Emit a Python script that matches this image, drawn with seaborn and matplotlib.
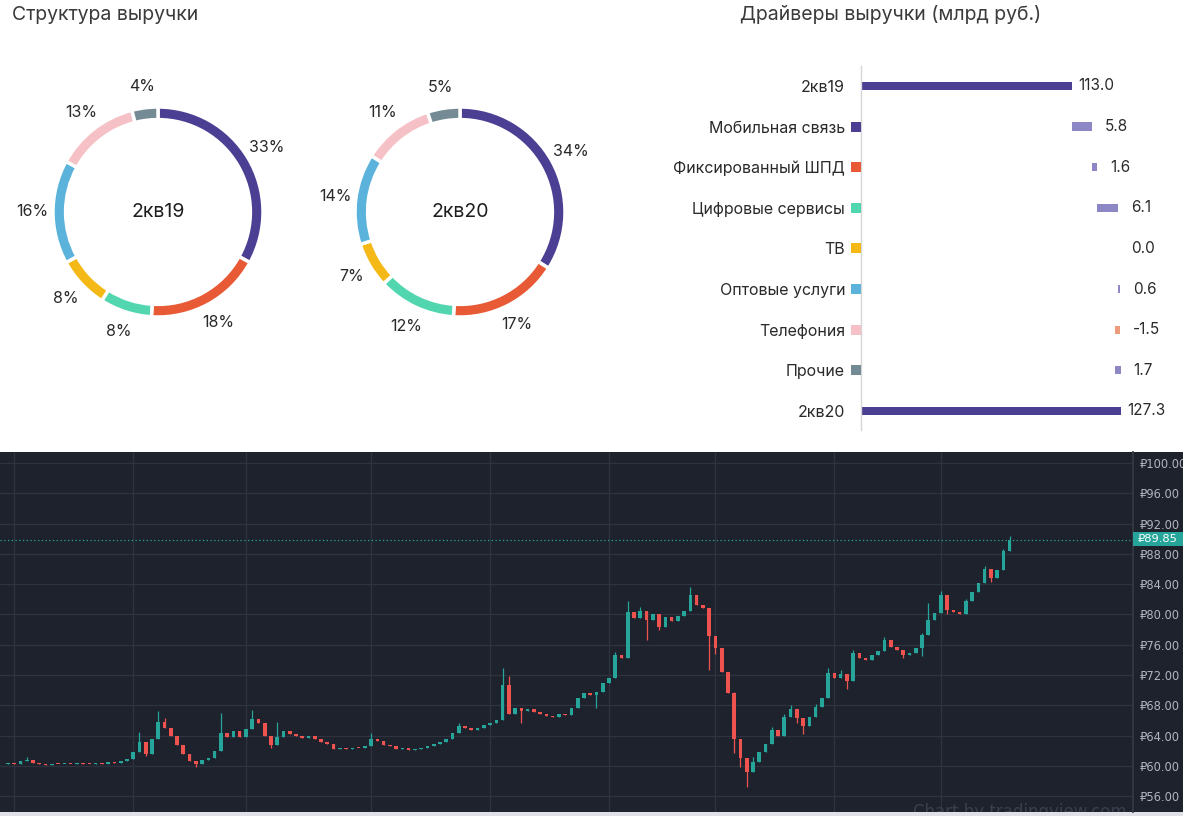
import numpy as np
import pandas as pd
import matplotlib
matplotlib.use("Agg")
import matplotlib.pyplot as plt
import matplotlib.transforms as mtransforms
from matplotlib.patches import Rectangle
import seaborn as sns

# ---------------- data ----------------
segment_names = ["Мобильная связь", "Фиксированный ШПД", "Цифровые сервисы", "ТВ",
                 "Оптовые услуги", "Телефония", "Прочие"]
segment_colors = ["#4b3f93", "#e85a35", "#52d6b0", "#f4b916", "#5bb3dc", "#f6c1c6", "#748a94"]
share_2q19 = [33, 18, 8, 8, 16, 13, 4]
share_2q20 = [34, 17, 12, 7, 14, 11, 5]
donut_titles = ["2кв19", "2кв20"]

driver_labels = ["2кв19", "Мобильная связь", "Фиксированный ШПД", "Цифровые сервисы", "ТВ",
                 "Оптовые услуги", "Телефония", "Прочие", "2кв20"]
driver_values = [113.0, 5.8, 1.6, 6.1, 0.0, 0.6, -1.5, 1.7, 127.3]

first_open = 60.3
closes = [
    60.4, 60.3, 60.6, 60.8, 60.4, 60.2, 60.1, 60.3, 60.2, 60.3,
    60.2, 60.4, 60.3, 60.2, 60.4, 60.3, 60.5, 60.4, 60.6, 60.9,
    61.8, 63.2, 61.6, 63.5, 65.8, 65.0, 64.0, 62.8, 61.6, 60.6,
    60.3, 60.8, 61.0, 61.9, 64.4, 63.8, 64.6, 63.8, 64.9, 66.2,
    65.6, 64.0, 62.8, 63.8, 64.6, 64.2, 63.9, 63.7, 63.9, 63.6,
    63.2, 62.9, 62.2, 62.3, 62.2, 62.4, 62.3, 62.6, 63.6, 63.3,
    62.8, 62.6, 62.2, 62.3, 62.1, 62.2, 62.4, 62.6, 62.9, 63.2,
    63.6, 64.3, 65.2, 65.0, 64.7, 65.0, 65.4, 65.7, 66.1, 70.7,
    66.8, 67.7, 67.3, 67.5, 67.1, 66.9, 66.6, 66.5, 66.9, 66.7,
    67.6, 69.0, 69.6, 69.3, 69.8, 71.0, 71.6, 74.6, 74.3, 80.3,
    79.5, 80.4, 79.2, 80.0, 78.4, 79.6, 79.1, 79.8, 80.5, 82.6,
    81.3, 80.8, 77.2, 75.6, 72.4, 69.6, 63.5, 61.0, 59.2, 60.5,
    61.8, 62.9, 64.7, 64.0, 66.4, 67.5, 66.3, 65.2, 66.5, 67.8,
    68.9, 72.3, 71.6, 72.1, 71.2, 74.9, 74.3, 74.0, 74.6, 75.1,
    76.6, 75.7, 75.3, 74.6, 74.9, 75.6, 77.3, 79.2, 80.2, 82.6,
    80.6, 80.3, 80.0, 81.8, 83.0, 84.1, 86.0, 84.8, 85.9, 88.4,
    89.85,
]
wick_high = {3: 61.2, 21: 64.5, 24: 67.2, 25: 66.3, 34: 67.0, 39: 67.4, 43: 65.8,
             58: 64.3, 72: 65.6, 79: 72.9, 80: 71.9, 97: 75.0, 99: 81.8, 101: 81.0,
             109: 83.6, 110: 82.2, 114: 73.6, 116: 69.8, 119: 61.2, 122: 65.1,
             124: 66.9, 125: 68.0, 129: 68.2, 131: 72.9, 133: 72.6, 135: 75.3,
             140: 77.0, 146: 77.6, 147: 81.5, 149: 83.1, 153: 82.0, 156: 86.4,
             159: 88.6, 160: 90.3}
wick_low = {22: 61.3, 30: 59.9, 42: 62.3, 82: 65.7, 94: 67.6, 102: 76.6, 104: 77.9,
            112: 72.7, 113: 74.8, 116: 61.7, 117: 59.8, 118: 57.2, 120: 60.9,
            126: 65.6, 127: 64.2, 134: 70.2, 143: 74.2, 146: 74.5, 150: 80.0, 157: 84.3}
month_starts = [1, 20, 38, 58, 77, 96, 113, 132, 149]
price_ticks = [56, 60, 64, 68, 72, 76, 80, 84, 88, 92, 96, 100]
last_price = 89.85

# ---------------- style ----------------
W, H = 1183, 816
sns.set_theme(style="white")
plt.rcParams["font.family"] = ["Inter", "DejaVu Sans"]
fig = plt.figure(figsize=(W / 100, H / 100), dpi=100)
fig.patch.set_facecolor("white")


def fx(px):
    return px / W


def fy(py):
    return 1 - py / H


TXT = "#2a2a2a"

# ---------------- titles ----------------
fig.text(fx(12), fy(15), "Структура выручки", ha="left", va="center", fontsize=14, color="#3a3a3a")
fig.text(fx(891), fy(15), "Драйверы выручки (млрд руб.)", ha="center", va="center",
         fontsize=14, color="#3a3a3a")

# ---------------- donuts ----------------
r_px = 105
half = 1.3 * r_px
for cx, vals, title in [(158, share_2q19, donut_titles[0]), (460, share_2q20, donut_titles[1])]:
    ax = fig.add_axes([fx(cx - half), fy(212 + half), fx(2 * half), (2 * half) / H])
    ax.pie(vals, colors=segment_colors, startangle=90, counterclock=False, radius=1.0,
           wedgeprops=dict(width=0.12, edgecolor="white", linewidth=2.5))
    cum = np.cumsum([0] + vals[:-1])
    for v, c0 in zip(vals, cum):
        ang = np.deg2rad(90 - (c0 + v / 2) / 100 * 360)
        ax.text(1.2 * np.cos(ang), 1.2 * np.sin(ang), f"{v}%", ha="center", va="center",
                fontsize=11.5, color=TXT)
    ax.text(0, 0, title, ha="center", va="center", fontsize=14, color="#1e1e1e")
    ax.set_xlim(-1.3, 1.3)
    ax.set_ylim(-1.3, 1.3)
    ax.set_axis_off()

# ---------------- waterfall ----------------
total_color, pos_color, neg_color = "#4b3f93", "#8e87c5", "#eb9a7c"
his, los, cols = [], [], []
cum = 0.0
n = len(driver_values)
for k, v in enumerate(driver_values):
    if k == 0 or k == n - 1:
        his.append(v); los.append(0.0); cols.append(total_color); cum = v
    else:
        new = cum + v
        his.append(max(cum, new)); los.append(min(cum, new))
        cols.append(pos_color if v >= 0 else neg_color)
        cum = new
df = pd.DataFrame({"label": driver_labels, "hi": his, "lo": los})

axw = fig.add_axes([fx(861), fy(430), fx(322), 364 / H])
sns.barplot(data=df, x="hi", y="label", hue="label", palette=dict(zip(driver_labels, cols)),
            orient="h", width=0.2, saturation=1, legend=False, errorbar=None,
            order=driver_labels, ax=axw, linewidth=0)
sns.barplot(data=df, x="lo", y="label", color="white", orient="h", width=0.3, saturation=1,
            errorbar=None, order=driver_labels, ax=axw, linewidth=0)
axw.set_xlim(51.5, 145.4)
axw.set_ylim(8.47, -0.49)
axw.set_xlabel("")
axw.set_ylabel("")
axw.set_xticks([])
axw.tick_params(axis="y", length=0, pad=11.5, labelsize=11.5, labelcolor=TXT)
for s in ["top", "right", "bottom"]:
    axw.spines[s].set_visible(False)
axw.spines["left"].set_color("#d6d6d6")
axw.spines["left"].set_linewidth(1)
trans = mtransforms.blended_transform_factory(axw.transAxes, axw.transData)
for k in range(1, n - 1):
    axw.scatter([-0.017], [k], marker="s", s=42, color=segment_colors[k - 1],
                transform=trans, clip_on=False, zorder=5, linewidths=0)
for k, v in enumerate(driver_values):
    off = 4.5 if (k == 0 or k == n - 1) else 9
    axw.annotate(f"{v:.1f}", xy=(his[k], k), xytext=(off, 0), textcoords="offset points",
                 ha="left", va="center", fontsize=11, color=TXT)

# ---------------- candlestick panel ----------------
BG = "#1e222d"
GRID = "#2f333f"
TEAL = "#26a69a"
RED = "#ef5350"
fig.patches.append(Rectangle((0, 0), 1, (H - 452) / H, transform=fig.transFigure,
                             facecolor=BG, edgecolor="none", zorder=-10))
fig.patches.append(Rectangle((0, 0), 1, 4 / H, transform=fig.transFigure,
                             facecolor="#dfe1e6", edgecolor="none", zorder=-9))

axc = fig.add_axes([0, 4 / H, fx(1133), 360 / H])
axc.set_zorder(1)
axc.set_facecolor(BG)
c = np.array(closes, dtype=float)
o = np.array([first_open] + closes[:-1], dtype=float)
idx = np.arange(len(c))
hi = np.maximum(o, c)
lo = np.minimum(o, c)
for k, v in wick_high.items():
    hi[k] = max(hi[k], v)
for k, v in wick_low.items():
    lo[k] = min(lo[k], v)
up = c >= o
colors = np.where(up, TEAL, RED)
axc.vlines(idx, lo, hi, colors=colors, linewidth=0.9, zorder=3)
body_h = np.maximum(np.abs(c - o), 0.12)
axc.bar(idx, body_h, bottom=np.minimum(o, c), width=0.58, color=colors, linewidth=0, zorder=4)

axc.set_xlim(-1.28, 179.7)
axc.set_ylim(53.9, 101.45)
axc.set_xticks(month_starts)
axc.set_yticks(price_ticks, labels=[f"₽{t:.2f}" for t in price_ticks])
axc.grid(True, color=GRID, linewidth=0.9)
axc.set_axisbelow(True)
axc.yaxis.tick_right()
axc.tick_params(axis="x", length=0, labelbottom=False)
axc.tick_params(axis="y", length=0, pad=5, labelsize=8.3, labelcolor="#b2b5be",
                labelright=True, labelleft=False)
for lab in axc.get_yticklabels():
    lab.set_fontfamily(["DejaVu Sans"])
for s in ["top", "left", "bottom"]:
    axc.spines[s].set_visible(False)
axc.spines["right"].set_color("#363a45")
axc.axhline(last_price, color=TEAL, linestyle=(0, (1, 2)), linewidth=0.9, zorder=5)
axc.text(0.9, 0.0, "Chart by tradingview.com", transform=axc.transAxes, ha="center",
         va="center", fontsize=12, color="#3a3f4c", clip_on=True, zorder=1,
         family=["DejaVu Sans"])

# last price marker on the price scale
fig.patches.append(Rectangle((fx(1133), fy(546)), fx(50), 14 / H, transform=fig.transFigure,
                             facecolor=TEAL, edgecolor="none", zorder=6))
fig.text(fx(1158), fy(539), f"₽{last_price:.2f}", ha="center", va="center", fontsize=8.2,
         color="white", family=["DejaVu Sans"], zorder=7)

fig.savefig("out.png", dpi=100, facecolor=fig.get_facecolor())
